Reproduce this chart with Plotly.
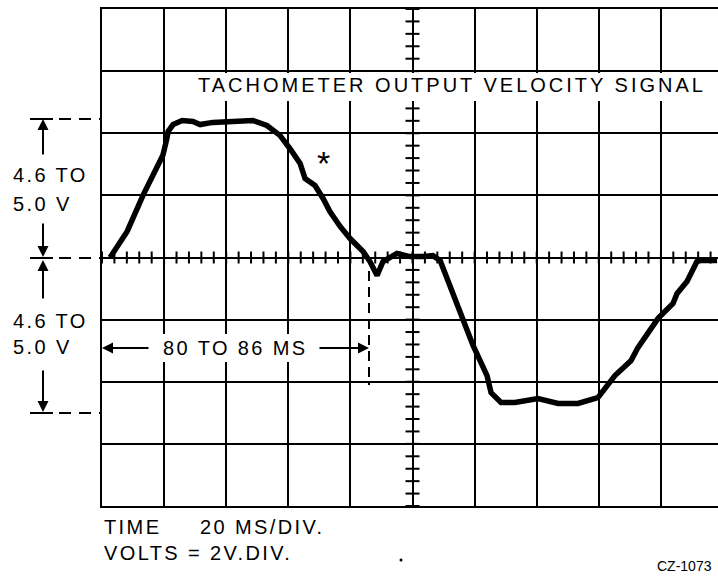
import numpy as np
import plotly.graph_objects as go

# ---- data (time in ms, signal in volts) ----
time_ms = [2.6, 8.1, 13.2, 17.7, 19.6, 20.9, 21.3, 22.9, 25.8, 29.3, 31.6, 35.7, 40.3,
           48.6, 53.1, 57.3, 60.5, 63.8, 65.4, 68.6, 71.2, 73.4, 76.7, 79.9, 84.1,
           86.3, 88.6, 90.5, 95.0, 99.2, 103.4, 106.6, 108.9, 112.1, 116.3, 119.5,
           124.0, 125.3, 128.5, 133.0, 140.4, 146.9, 153.3, 159.7, 165.2, 170.4,
           172.6, 175.5, 179.1, 183.9, 185.2, 188.4, 191.6, 192.6, 198.1]
volts = [0.0, 0.84, 2.00, 2.87, 3.29, 3.83, 4.06, 4.28, 4.41, 4.38, 4.28, 4.35, 4.38,
         4.41, 4.25, 3.93, 3.51, 3.03, 2.54, 2.32, 1.90, 1.48, 1.00, 0.61, 0.19,
         -0.13, -0.58, -0.13, 0.13, 0.03, 0.03, 0.06, -0.10, -0.90, -1.96, -2.83,
         -3.80, -4.35, -4.67, -4.67, -4.54, -4.70, -4.70, -4.51, -3.80, -3.32,
         -2.90, -2.51, -1.96, -1.48, -1.16, -0.77, -0.13, -0.10, -0.10]

title_text = "TACHOMETER OUTPUT VELOCITY SIGNAL"
range_lines = ["4.6 TO", "5.0 V"]
period_text = "80 TO 86 MS"
time_scale = ["TIME", "20 MS/DIV."]
volt_scale = "VOLTS = 2V.DIV."
fig_id = "CZ-1073"

MS_PER_DIV = 20
V_PER_DIV = 2

# ---- geometry ----
W, H = 718, 577
L, T, B = 102, 9, 71
PW, PH = W - L, H - T - B
X_MAX = PW / 62.1 * MS_PER_DIV


def fx(px):
    return (px - L) / PW


def fy(py):
    return (H - B - py) / PH


FONT = "Liberation Sans, Arial, Helvetica, sans-serif"
BLACK = "black"

fig = go.Figure()
fig.add_trace(go.Scatter(x=time_ms, y=volts, mode="lines",
                         line=dict(color=BLACK, width=5.5),
                         hoverinfo="skip", showlegend=False))

shapes = []
# minor graduations on the centre lines
for t in np.arange(0, X_MAX, MS_PER_DIV / 5):
    shapes.append(dict(type="line", xref="x", yref="y", x0=t, x1=t,
                       ysizemode="pixel", yanchor=0, y0=-6, y1=6,
                       line=dict(color=BLACK, width=2)))
for v in np.arange(-4 * V_PER_DIV, 4 * V_PER_DIV + 0.01, V_PER_DIV / 5):
    shapes.append(dict(type="line", xref="x", yref="y", y0=v, y1=v,
                       xsizemode="pixel", xanchor=5 * MS_PER_DIV, x0=-7, x1=7,
                       line=dict(color=BLACK, width=2)))

# white boxes behind texts inside the graticule
shapes.append(dict(type="rect", xref="paper", yref="paper", x0=fx(193), x1=fx(713),
                   y0=fy(101), y1=fy(73), fillcolor="white", line=dict(width=0), layer="above"))
shapes.append(dict(type="rect", xref="paper", yref="paper", x0=fx(152), x1=fx(318),
                   y0=fy(362), y1=fy(334), fillcolor="white", line=dict(width=0), layer="above"))


def hline(x0, x1, y, dash="solid"):
    shapes.append(dict(type="line", xref="paper", yref="paper", x0=fx(x0), x1=fx(x1),
                       y0=fy(y), y1=fy(y), line=dict(color=BLACK, width=2, dash=dash)))


def vline(x, y0, y1, dash="solid"):
    shapes.append(dict(type="line", xref="paper", yref="paper", x0=fx(x), x1=fx(x),
                       y0=fy(y0), y1=fy(y1), line=dict(color=BLACK, width=2, dash=dash)))


# left dimension bars
for yb in (119, 258, 413):
    hline(30, 53, yb)
    hline(59, 101, yb, dash="12px,8px")
# period dashed marker
vline(369, 271, 385, dash="10px,6px")
# little dot
shapes.append(dict(type="circle", xref="paper", yref="paper", x0=fx(399.5), x1=fx(402.5),
                   y0=fy(561.5), y1=fy(558.5), fillcolor=BLACK, line=dict(width=0)))

ann = []


def text(s, px, py, size=20, xanchor="left", yanchor="middle", family=FONT):
    ann.append(dict(text=s, xref="paper", yref="paper", x=fx(px), y=fy(py),
                    xanchor=xanchor, yanchor=yanchor, align="left", showarrow=False,
                    font=dict(family=family, size=size, color=BLACK)))


def arrow(hx, hy, ax, ay):
    ann.append(dict(text="", xref="paper", yref="paper", x=fx(hx), y=fy(hy),
                    ax=ax, ay=ay, showarrow=True, arrowhead=2, arrowsize=1.1,
                    arrowwidth=2, arrowcolor=BLACK, standoff=0))


text(title_text, 196, 85.5)
text(range_lines[0], 11, 174.5)
text(range_lines[1], 11, 204.5)
text(range_lines[0], 11, 321)
text(range_lines[1], 11, 347)
text(period_text, 161, 347.5)
text(time_scale[0], 102, 527)
text(time_scale[1], 198, 527)
text(volt_scale, 102, 552.5)
text("*", 323, 163, size=34, xanchor="center")
text(fig_id, 655, 576, size=14, yanchor="bottom")

arrow(43, 119, 0, 37)
arrow(43, 257, 0, -35)
arrow(43, 260, 0, 40)
arrow(43, 412, 0, -43)
arrow(102, 348, 48, 0)
arrow(369, 348, -51, 0)

fig.update_layout(
    width=W, height=H,
    margin=dict(l=L, r=0, t=T, b=B, pad=0),
    paper_bgcolor="white", plot_bgcolor="white",
    shapes=shapes, annotations=ann,
    xaxis=dict(range=[0, X_MAX], tick0=0, dtick=MS_PER_DIV, showgrid=True,
               gridcolor=BLACK, gridwidth=2, zeroline=False, showticklabels=False,
               ticks="", showline=True, linecolor=BLACK, linewidth=2, mirror=True,
               fixedrange=True),
    yaxis=dict(range=[-4 * V_PER_DIV, 4 * V_PER_DIV], tick0=0, dtick=V_PER_DIV,
               showgrid=True, gridcolor=BLACK, gridwidth=2, zeroline=True,
               zerolinecolor=BLACK, zerolinewidth=2, showticklabels=False, ticks="",
               showline=True, linecolor=BLACK, linewidth=2, mirror=False,
               fixedrange=True),
)

post = """
document.body.style.margin = '0';
document.querySelectorAll('.annotation-text').forEach(function (t) {
    var s = t.textContent;
    if (s.indexOf('TACHOMETER') >= 0) { t.style.letterSpacing = '3px'; }
    else if (s !== '*' && s.indexOf('CZ') < 0 && s.length > 0) { t.style.letterSpacing = '2.4px'; }
});
"""

fig.write_html("out.html", config={"displayModeBar": False, "staticPlot": True},
               post_script=post)
